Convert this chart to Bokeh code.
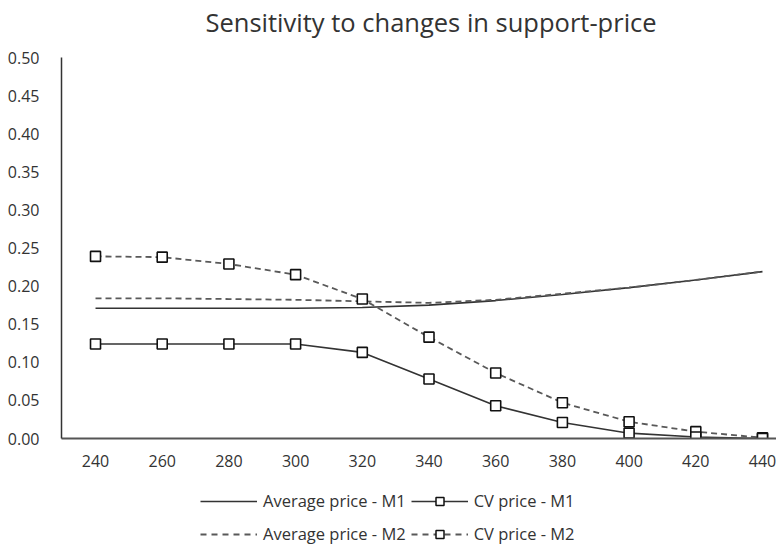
from bokeh.plotting import figure
from bokeh.layouts import column
from bokeh.models import (FixedTicker, NumeralTickFormatter, Legend, LegendItem,
                          Range1d, Title)
from bokeh.embed import file_html
from bokeh.resources import INLINE

# ---- data ----
support_price = [240, 260, 280, 300, 320, 340, 360, 380, 400, 420, 440]
avg_price_m1 = [0.171, 0.171, 0.171, 0.171, 0.172, 0.175, 0.181, 0.189, 0.198, 0.208, 0.219]
cv_price_m1 = [0.124, 0.124, 0.124, 0.124, 0.113, 0.078, 0.043, 0.021, 0.007, 0.002, 0.000]
avg_price_m2 = [0.184, 0.184, 0.183, 0.182, 0.180, 0.178, 0.182, 0.190, 0.198, 0.208, 0.219]
cv_price_m2 = [0.239, 0.238, 0.229, 0.215, 0.183, 0.133, 0.086, 0.047, 0.022, 0.009, 0.001]
y_ticks = [0.0, 0.05, 0.10, 0.15, 0.20, 0.25, 0.30, 0.35, 0.40, 0.45, 0.50]
title_text = "Sensitivity to changes in support-price"
legend_labels = ["Average price - M1", "CV price - M1",
                 "Average price - M2", "CV price - M2"]

FONT = "Open Sans"
solid_col = "#333333"
dash_col = "#595959"
DASH = "6 4"
W = 776


def bare(height):
    f = figure(width=W, height=height, output_backend="svg", toolbar_location=None,
               x_range=Range1d(0, 1), y_range=Range1d(0, 1),
               x_axis_location=None, y_axis_location=None)
    f.min_border_left = 0
    f.min_border_right = 0
    f.min_border_top = 0
    f.min_border_bottom = 0
    f.outline_line_color = None
    f.xgrid.visible = False
    f.ygrid.visible = False
    return f


# ---- title strip ----
h = bare(47)
h.add_layout(Title(text=title_text, align="left", text_font=FONT,
                   text_font_size="25.5px", text_font_style="normal",
                   text_color="#333333", offset=144, standoff=4), "above")

# ---- main chart ----
p = figure(width=W, height=427, output_backend="svg", toolbar_location=None,
           x_range=Range1d(229.8, 444.2), y_range=Range1d(0, 0.5))
p.min_border_left = 61
p.min_border_right = 0
p.min_border_top = 10
p.min_border_bottom = 36
p.outline_line_color = None
p.xgrid.visible = False
p.ygrid.visible = False

p.yaxis.ticker = FixedTicker(ticks=y_ticks)
p.yaxis.formatter = NumeralTickFormatter(format="0.00")
p.xaxis.ticker = FixedTicker(ticks=support_price)
for ax in (p.xaxis, p.yaxis):
    ax.major_tick_line_color = None
    ax.minor_tick_line_color = None
    ax.axis_line_color = "#333333"
    ax.axis_line_width = 1.5
    ax.major_label_text_font = FONT
    ax.major_label_text_font_size = "16px"
    ax.major_label_text_color = "#333333"
p.xaxis.axis_line_color = "#555555"
p.xaxis.axis_line_width = 2
p.yaxis.major_label_standoff = 16
p.xaxis.major_label_standoff = 10

p.line(support_price, avg_price_m1, line_color=solid_col, line_width=1.6)
p.line(support_price, avg_price_m2, line_color=dash_col, line_width=1.8, line_dash=DASH)
p.line(support_price, cv_price_m2, line_color=dash_col, line_width=1.8, line_dash=DASH)
p.line(support_price, cv_price_m1, line_color=solid_col, line_width=1.6)
p.scatter(support_price, cv_price_m2, marker="square", size=10,
          fill_color="white", line_color="#111111", line_width=1.6)
p.scatter(support_price, cv_price_m1, marker="square", size=10,
          fill_color="white", line_color="#111111", line_width=1.6)

# ---- legend strip below the chart (sample glyphs kept outside its view) ----
q = bare(71)
off = [5, 6]
s_avg1 = q.line(off, off, line_color=solid_col, line_width=1.6)
s_cv1l = q.line(off, off, line_color=solid_col, line_width=1.6)
s_cv1m = q.scatter(off, off, marker="square", size=9, fill_color="white",
                   line_color="#111111", line_width=1.5)
s_avg2 = q.line(off, off, line_color=dash_col, line_width=1.8, line_dash="6 5")
s_cv2l = q.line(off, off, line_color=dash_col, line_width=1.8, line_dash="6 5")
s_cv2m = q.scatter(off, off, marker="square", size=9, fill_color="white",
                   line_color="#111111", line_width=1.5)


def mk_legend(items, loc):
    return Legend(items=items, orientation="horizontal", location=loc,
                  glyph_width=57, glyph_height=20, label_height=20,
                  label_standoff=6, spacing=5, padding=0, margin=0,
                  border_line_color=None, background_fill_alpha=0,
                  label_text_font=FONT, label_text_font_size="16.5px",
                  label_text_color="#333333")


leg1 = mk_legend([LegendItem(label=legend_labels[0], renderers=[s_avg1]),
                  LegendItem(label=legend_labels[1], renderers=[s_cv1l, s_cv1m])],
                 (139, 33))
leg2 = mk_legend([LegendItem(label=legend_labels[2], renderers=[s_avg2]),
                  LegendItem(label=legend_labels[3], renderers=[s_cv2l, s_cv2m])],
                 (139, 0))
q.add_layout(leg1)
q.add_layout(leg2)

layout = column(h, p, q, spacing=0)
open("out.html", "w").write(file_html(layout, INLINE))
